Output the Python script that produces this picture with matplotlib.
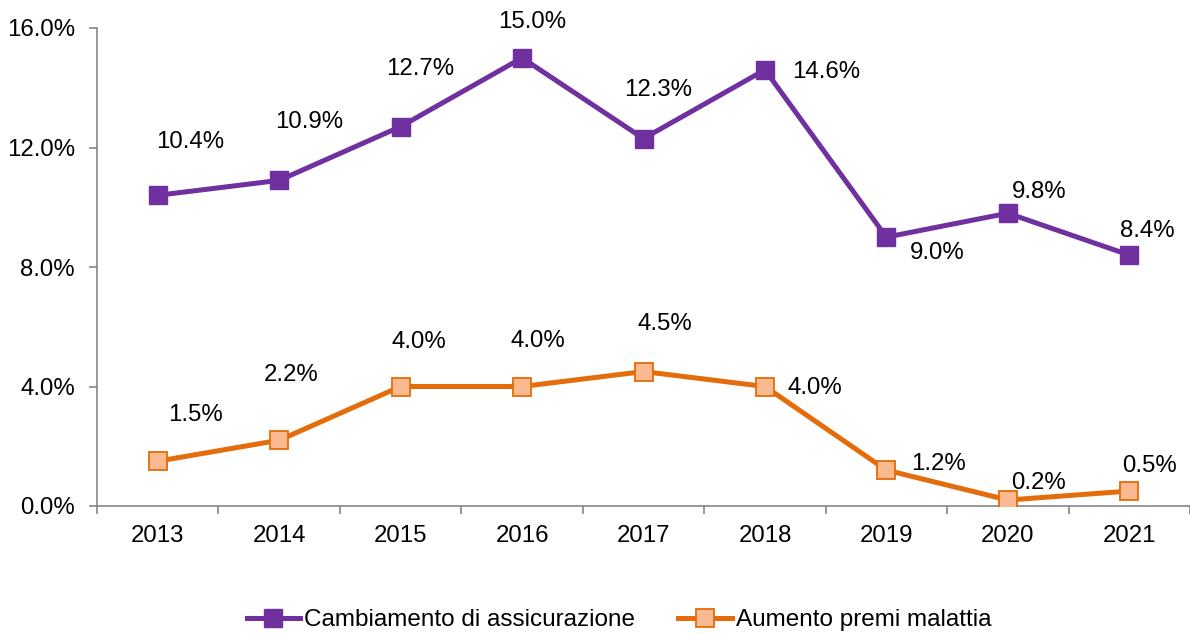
import matplotlib.pyplot as plt
from matplotlib.ticker import FuncFormatter, FixedLocator

plt.rcParams['font.family'] = ['Liberation Sans', 'DejaVu Sans']

years = ['2013', '2014', '2015', '2016', '2017', '2018', '2019', '2020', '2021']
cambiamento = [10.4, 10.9, 12.7, 15.0, 12.3, 14.6, 9.0, 9.8, 8.4]
aumento = [1.5, 2.2, 4.0, 4.0, 4.5, 4.0, 1.2, 0.2, 0.5]

# label offsets in pixels (dx, dy) from each point
off_camb = [(32, 53), (30, 58), (20, 58), (10, 36), (15, 49), (61, -2), (51, -16), (31, 21), (18, 24)]
off_aum = [(38, 46), (12, 65), (18, 44), (16, 46), (21, 48), (50, -2), (52, 6), (31, 17), (20, 25)]

purple = '#7030A0'
orange = '#E46C0A'
gray = '#868686'
fs = 17.3

fig = plt.figure(figsize=(11.9, 6.34), dpi=100)
ax = fig.add_axes([97 / 1190, 1 - 506 / 634, 1 - 97 / 1190, (506 - 28) / 634])

x = list(range(len(years)))
ax.plot(x, cambiamento, color=purple, lw=3.6, marker='s', ms=12.5,
        mfc=purple, mec=purple, label='Cambiamento di assicurazione', zorder=3)
ax.plot(x, aumento, color=orange, lw=3.6, marker='s', ms=12.5,
        mfc='#FAB98E', mec=orange, mew=1.3, label='Aumento premi malattia', zorder=3)

for xi, v, (dx, dy) in zip(x, cambiamento, off_camb):
    ax.annotate(f'{v:.1f}%', (xi, v), xytext=(dx * 0.72, dy * 0.72), textcoords='offset points',
                ha='center', va='center', fontsize=fs)
for xi, v, (dx, dy) in zip(x, aumento, off_aum):
    ax.annotate(f'{v:.1f}%', (xi, v), xytext=(dx * 0.72, dy * 0.72), textcoords='offset points',
                ha='center', va='center', fontsize=fs)

ax.set_xlim(-0.5, len(years) - 0.5)
ax.set_ylim(0, 16)
ax.set_yticks([0, 4, 8, 12, 16])
ax.yaxis.set_major_formatter(FuncFormatter(lambda v, p: f'{v:.1f}%'))
ax.set_xticks(x)
ax.set_xticklabels(years)
ax.xaxis.set_minor_locator(FixedLocator([i - 0.5 for i in range(len(years) + 1)]))
ax.tick_params(axis='x', which='major', length=0, pad=14, labelsize=fs)
ax.tick_params(axis='x', which='minor', length=6, color=gray, width=1.2, direction='out')
ax.tick_params(axis='y', length=6, color=gray, width=1.2, labelsize=fs, pad=10)

for s in ['top', 'right']:
    ax.spines[s].set_visible(False)
for s in ['left', 'bottom']:
    ax.spines[s].set_color(gray)
    ax.spines[s].set_linewidth(1.2)

fig.legend(loc='lower center', bbox_to_anchor=(0.52, -0.03), ncol=2, frameon=False,
           fontsize=17.5, handlelength=2.2, columnspacing=1.8, handletextpad=0.15)

fig.savefig('out.png', dpi=100)
